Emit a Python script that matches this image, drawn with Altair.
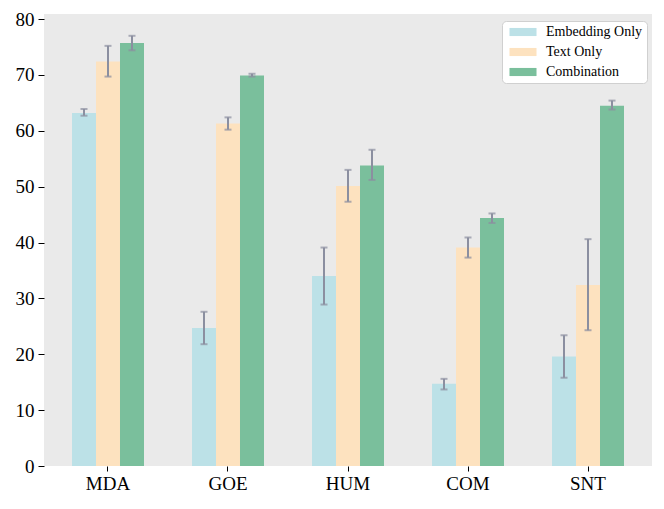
import altair as alt
import pandas as pd

categories = ["MDA", "GOE", "HUM", "COM", "SNT"]
series = ["Embedding Only", "Text Only", "Combination"]
colors = ["#bce1e7", "#fde2bf", "#7abf9c"]

emb_mean = [63.2, 24.7, 34.0, 14.7, 19.6]
emb_lo = [62.7, 21.8, 28.9, 13.7, 15.8]
emb_hi = [63.9, 27.6, 39.1, 15.6, 23.4]

txt_mean = [72.4, 61.3, 50.1, 39.1, 32.4]
txt_lo = [69.7, 60.2, 47.3, 37.3, 24.3]
txt_hi = [75.2, 62.4, 53.0, 40.9, 40.6]

cmb_mean = [75.7, 69.9, 53.8, 44.4, 64.5]
cmb_lo = [74.4, 69.7, 51.2, 43.5, 63.8]
cmb_hi = [77.0, 70.2, 56.6, 45.2, 65.4]

y_ticks = [0, 10, 20, 30, 40, 50, 60, 70, 80]

rows = []
for s, m, lo, hi in zip(series, [emb_mean, txt_mean, cmb_mean],
                        [emb_lo, txt_lo, cmb_lo], [emb_hi, txt_hi, cmb_hi]):
    for c, a, b, d in zip(categories, m, lo, hi):
        rows.append({"cat": c, "series": s, "mean": a, "lo": b, "hi": d})
df = pd.DataFrame(rows)

FONT = "Liberation Serif"
ERR = "#8b8fa0"

x = alt.X("cat:N", sort=categories, title=None,
          scale=alt.Scale(paddingInner=0.4, paddingOuter=0.2333),
          axis=alt.Axis(labelAngle=0, labelFontSize=19, labelFont=FONT,
                        labelColor="black", tickColor="black", tickSize=5,
                        labelPadding=3, domain=False))
xoff = alt.XOffset("series:N", sort=series, scale=alt.Scale(paddingInner=0, paddingOuter=0))

base = alt.Chart(df)

bars = base.mark_bar().encode(
    x=x, xOffset=xoff,
    y=alt.Y("mean:Q", title=None,
            scale=alt.Scale(domain=[0, 80.9], nice=False, zero=True),
            axis=alt.Axis(values=y_ticks, labelFontSize=19, labelFont=FONT,
                          labelColor="black", tickColor="black", tickSize=6,
                          labelPadding=4, domain=False, grid=False)),
    color=alt.Color("series:N", sort=series,
                    scale=alt.Scale(domain=series, range=colors),
                    legend=alt.Legend(
                        title=None, orient="none", legendX=458, legendY=7,
                        fillColor="white", strokeColor="#d0d0d0", cornerRadius=4,
                        padding=4, rowPadding=6, labelFont=FONT, labelFontSize=14,
                        labelColor="black", labelOffset=16, symbolOffset=10,
                        symbolType="M-2.5,-0.75L2.5,-0.75L2.5,0.75L-2.5,0.75Z",
                        symbolSize=117, symbolStrokeWidth=0, symbolOpacity=1)),
)

rules = base.mark_rule(color=ERR, strokeWidth=2).encode(
    x=x, xOffset=xoff, y="lo:Q", y2="hi:Q")

cap_lo = base.mark_tick(color=ERR, orient="horizontal", size=7, thickness=2).encode(
    x=x, xOffset=xoff, y="lo:Q")
cap_hi = base.mark_tick(color=ERR, orient="horizontal", size=7, thickness=2).encode(
    x=x, xOffset=xoff, y="hi:Q")

chart = alt.layer(bars, rules, cap_lo, cap_hi).properties(
    width=608, height=452,
    autosize=alt.AutoSizeParams(type="none"),
    padding={"left": 36, "top": 6, "right": 4, "bottom": 35},
    background="white",
).configure(font=FONT).configure_view(fill="#eaeaea", stroke=None)

chart.save("out.html", embed_options={"renderer": "svg", "actions": False})
